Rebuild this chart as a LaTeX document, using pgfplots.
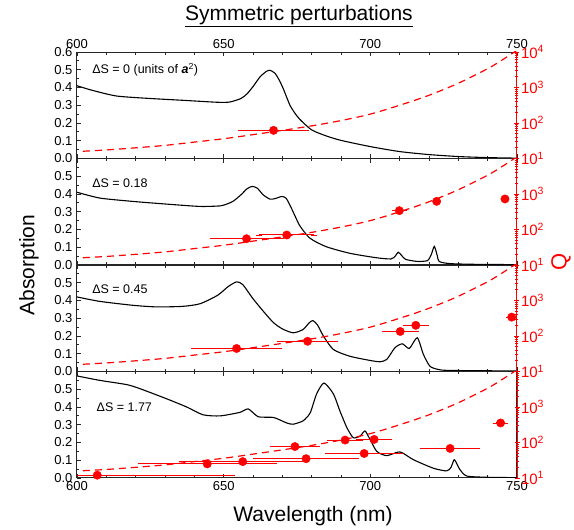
\documentclass[border=0pt]{standalone}
\usepackage{fontspec}
\setmainfont{Liberation Sans}
\usepackage{pgfplots}
\usepackage{pgfplotstable}
\pgfplotsset{compat=1.18}

% ---------- absorption spectra ----------
\pgfplotstableread{
x y
600 0.41
605 0.385
613.5 0.352
625 0.338
636 0.328
647.6 0.317
652 0.318
655.9 0.338
658 0.365
660 0.405
662.4 0.46
664.5 0.49
665.8 0.497
667.5 0.48
669 0.44
670.4 0.39
672.6 0.30
674.3 0.255
676 0.22
680 0.161
685 0.127
690 0.102
700 0.067
710 0.039
720 0.022
730 0.011
740 0.005
750 0.002
}\specA
\pgfplotstableread{
x y
600 0.41
607.8 0.377
619.2 0.358
630.6 0.343
641.9 0.33
648.8 0.333
651 0.343
653.3 0.36
656 0.397
658 0.43
659.8 0.443
661.5 0.432
663.5 0.395
665.8 0.371
667.5 0.374
669.8 0.386
671.3 0.376
672.8 0.33
674.5 0.27
676 0.22
679.4 0.151
685 0.103
693 0.066
702 0.041
707 0.034
708.5 0.05
709.5 0.072
710.6 0.055
712 0.032
716 0.02
719.5 0.025
720.8 0.06
721.8 0.105
722.7 0.06
723.5 0.02
727 0.008
735 0.004
750 0.002
}\specB
\pgfplotstableread{
x y
600 0.42
607.8 0.395
619 0.373
627 0.364
636 0.367
642 0.382
648 0.43
651.5 0.478
654.4 0.505
656.5 0.49
660 0.41
664 0.33
667 0.275
670 0.24
673.7 0.218
677 0.236
679.2 0.275
680.4 0.287
682 0.262
684 0.2
687.4 0.124
693 0.086
700 0.062
703.3 0.055
705.6 0.068
708.4 0.134
710.9 0.156
713.3 0.13
716 0.19
718.1 0.096
720.3 0.03
723 0.012
727 0.006
750 0.003
}\specC
\pgfplotstableread{
x y
600 0.575
607.8 0.55
617 0.526
621.5 0.503
630.6 0.446
637.4 0.40
643 0.356
648.8 0.35
655.6 0.37
658.4 0.389
661.8 0.345
667 0.341
671.5 0.31
673.7 0.303
676.9 0.32
678.3 0.341
679.6 0.37
681.7 0.474
684.2 0.535
687.4 0.474
689.6 0.379
692 0.284
694.2 0.227
696.5 0.236
698.2 0.265
699.9 0.217
702.2 0.15
705.6 0.126
710.1 0.147
714.7 0.103
721.5 0.055
726 0.04
727.5 0.06
728.6 0.103
729.8 0.07
730.6 0.046
732.9 0.011
740 0.004
750 0.002
}\specD

% ---------- Q model curve ----------
\pgfplotstableread{
x q
602 16
610 17.4
620 20
630 23.4
640 29
650 36
660 47
670 62
680 83
690 117
700 178
710 316
720 603
730 1318
740 3390
745 6000
750 11200
}\qcurve

% ---------- Q data ----------
\pgfplotstableread{
x q ex
667 62 11
}\qA
\pgfplotstableread{
x q ex
657.8 55 11.6
671.5 70 9.3
709.9 340 1.5
722.6 620 0
745.9 725 0
}\qB
\pgfplotstableread{
x q ex
654.4 44.5 14.6
678.6 71 9.3
710.2 134 5.2
715.5 200 3.5
748.2 340 1
}\qC
\pgfplotstableread{
x q ex
606.9 12 46
644.4 25 22.7
656.5 29 20.6
674.3 77 7.6
678.1 35 17.1
691.4 117 5.1
697.9 49 12.2
701.3 122 5.2
727.2 68 9.1
744.4 355 1.5
}\qD

\pgfplotsset{
  absaxis/.style={
    scale only axis, width=440pt, height=106.5pt,
    xmin=600, xmax=750, ymin=0, ymax=0.6,
    axis line style={black!85, line width=1pt},
    xtick={600,650,700,750}, minor x tick num=4,
    xtick pos=both,
    ytick={0,0.1,0.2,0.3,0.4,0.5,0.6}, minor y tick num=1,
    ytick pos=left, tick align=inside,
    major tick length=4pt, minor tick length=2.5pt,
    tick style={black!85, line width=0.8pt},
    tick label style={font=\fontsize{13}{15}\selectfont},
    yticklabel style={xshift=-1pt},
  },
  qaxis/.style={
    scale only axis, width=440pt, height=106.5pt,
    xmin=600, xmax=750, ymin=10, ymax=10000,
    axis x line=none, axis y line*=right,
    y axis line style={red, line width=1pt},
    ytick={10,100,1000,10000},
    minor ytick={20,30,40,50,60,70,80,90,200,300,400,500,600,700,800,900,2000,3000,4000,5000,6000,7000,8000,9000},
    tick align=center,
    major tick length=5pt, minor tick length=3pt,
    tick style={red, line width=0.8pt},
    yticklabel style={red, font=\fontsize{15}{17}\selectfont, xshift=-2pt},
  },
}
\tikzset{
  spec/.style={black, line width=1.1pt, smooth, tension=0.4},
  qline/.style={red, line width=1.2pt, dash pattern=on 7pt off 5pt, smooth},
}

\begin{document}
\begin{tikzpicture}
\useasboundingbox (-77pt,-52pt) rectangle (497pt,478pt);

% ---------------- panel 1 ----------------
\begin{axis}[absaxis, at={(0pt,319.5pt)}, anchor=south west,
  xticklabel pos=upper, xticklabels={600,650,700,750},
  yticklabels={0.0,0.1,0.2,0.3,0.4,0.5,0.6}]
\addplot[spec, no markers] table[x=x,y=y] {\specA};
\node[anchor=west, font=\fontsize{12.5}{14}\selectfont] at (axis cs:604,0.5)
  {ΔS = 0 (units of \textbf{\textit{a}}\textsuperscript{2})};
\end{axis}
\begin{axis}[qaxis, ymode=log, at={(0pt,319.5pt)}, anchor=south west,
  yticklabels={10\textsuperscript{1},10\textsuperscript{2},10\textsuperscript{3},10\textsuperscript{4}}]
\addplot[qline, no markers] table[x=x,y=q] {\qcurve};
\addplot[red, only marks, mark=*, mark size=4.2pt,
    error bars/x dir=both, error bars/x explicit,
    error bars/error bar style={red, line width=1pt},
    error bars/error mark options={red, mark size=3pt, line width=0.9pt}]
  table[x=x,y=q,x error=ex] {\qA};
\end{axis}

% ---------------- panel 2 ----------------
\begin{axis}[absaxis, at={(0pt,213pt)}, anchor=south west,
  xticklabels={}, yticklabels={0.0,0.1,0.2,0.3,0.4,0.5,{}}]
\addplot[spec, no markers] table[x=x,y=y] {\specB};
\node[anchor=west, font=\fontsize{12.5}{14}\selectfont] at (axis cs:604,0.46) {ΔS = 0.18};
\end{axis}
\begin{axis}[qaxis, ymode=log, at={(0pt,213pt)}, anchor=south west,
  yticklabels={10\textsuperscript{1},10\textsuperscript{2},10\textsuperscript{3},{}}]
\addplot[qline, no markers] table[x=x,y=q] {\qcurve};
\addplot[red, only marks, mark=*, mark size=4.2pt,
    error bars/x dir=both, error bars/x explicit,
    error bars/error bar style={red, line width=1pt},
    error bars/error mark options={red, mark size=3pt, line width=0.9pt}]
  table[x=x,y=q,x error=ex] {\qB};
\end{axis}

% ---------------- panel 3 ----------------
\begin{axis}[absaxis, at={(0pt,106.5pt)}, anchor=south west,
  xticklabels={}, yticklabels={0.0,0.1,0.2,0.3,0.4,0.5,{}}]
\addplot[spec, no markers] table[x=x,y=y] {\specC};
\node[anchor=west, font=\fontsize{12.5}{14}\selectfont] at (axis cs:604,0.465) {ΔS = 0.45};
\end{axis}
\begin{axis}[qaxis, ymode=log, at={(0pt,106.5pt)}, anchor=south west,
  yticklabels={10\textsuperscript{1},10\textsuperscript{2},10\textsuperscript{3},{}}]
\addplot[qline, no markers] table[x=x,y=q] {\qcurve};
\addplot[red, only marks, mark=*, mark size=4.2pt,
    error bars/x dir=both, error bars/x explicit,
    error bars/error bar style={red, line width=1pt},
    error bars/error mark options={red, mark size=3pt, line width=0.9pt}]
  table[x=x,y=q,x error=ex] {\qC};
\end{axis}

% ---------------- panel 4 ----------------
\begin{axis}[absaxis, at={(0pt,0pt)}, anchor=south west,
  xticklabel pos=lower, xticklabels={600,650,700,750},
  yticklabels={0.0,0.1,0.2,0.3,0.4,0.5,{}}]
\addplot[spec, no markers] table[x=x,y=y] {\specD};
\node[anchor=west, font=\fontsize{12.5}{14}\selectfont] at (axis cs:605.5,0.40) {ΔS = 1.77};
\end{axis}
\begin{axis}[qaxis, ymode=log, at={(0pt,0pt)}, anchor=south west,
  yticklabels={10\textsuperscript{1},10\textsuperscript{2},10\textsuperscript{3},{}}]
\addplot[qline, no markers] table[x=x,y=q] {\qcurve};
\addplot[red, only marks, mark=*, mark size=4.2pt,
    error bars/x dir=both, error bars/x explicit,
    error bars/error bar style={red, line width=1pt},
    error bars/error mark options={red, mark size=3pt, line width=0.9pt}]
  table[x=x,y=q,x error=ex] {\qD};
\end{axis}

% ---------------- titles / labels ----------------
\node[font=\fontsize{21}{24}\selectfont] at (222pt,462pt) {\underline{Symmetric perturbations}};
\node[font=\fontsize{21}{24}\selectfont] at (236pt,-38pt) {Wavelength (nm)};
\node[font=\fontsize{21}{24}\selectfont, rotate=90] at (-48pt,213pt) {Absorption};
\node[font=\fontsize{22}{24}\selectfont, rotate=90, red] at (484pt,216pt) {Q};
\end{tikzpicture}
\end{document}
